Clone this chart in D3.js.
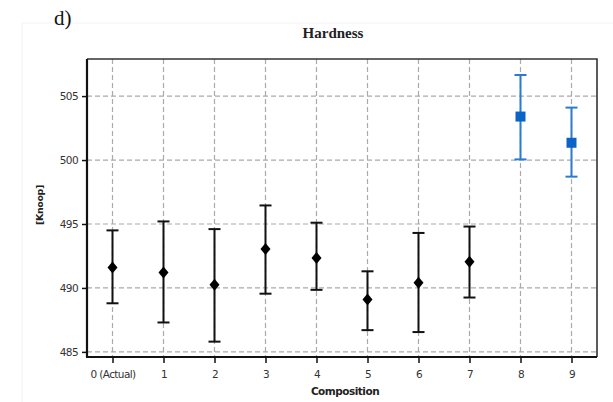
<!DOCTYPE html>
<html><head><meta charset="utf-8">
<script src="https://cdn.jsdelivr.net/npm/d3@7"></script>
<style>body{margin:0;background:#fff}</style>
</head><body>
<svg id="c" width="613" height="402"></svg>
<script>
const categories = ["0 (Actual)","1","2","3","4","5","6","7","8","9"];
const means = [491.6,491.2,490.25,493.05,492.35,489.1,490.4,492.05,503.4,501.35];
const upper = [494.5,495.2,494.6,496.45,495.1,491.3,494.3,494.8,506.65,504.1];
const lower = [488.8,487.3,485.8,489.55,489.85,486.7,486.55,489.25,500.05,498.7];
const groups = ["base","base","base","base","base","base","base","base","new","new"];
const yTicks = [485,490,495,500,505];

const svg = d3.select("#c");
const m = {l:87, r:597, t:59, b:357};
const x = d3.scalePoint().domain(categories).range([m.l, m.r]).padding(0.5);
const y = d3.scaleLinear().domain([484.6, 507.9]).range([m.b, m.t]);

// faint outer frame
svg.append("rect").attr("x",22).attr("y",23).attr("width",600).attr("height",390)
  .attr("fill","none").attr("stroke","#f3f3f3").attr("stroke-width",1);

// grid
svg.append("g").selectAll("line").data(yTicks).join("line")
  .attr("x1",m.l).attr("x2",m.r).attr("y1",d=>y(d)).attr("y2",d=>y(d))
  .attr("stroke","#aaaaaa").attr("stroke-width",1.2).attr("stroke-dasharray","5,3");
svg.append("g").selectAll("line").data(categories).join("line")
  .attr("x1",d=>x(d)).attr("x2",d=>x(d)).attr("y1",m.t).attr("y2",m.b)
  .attr("stroke","#aaaaaa").attr("stroke-width",1.2).attr("stroke-dasharray","5,3");

// frame top/right
svg.append("path").attr("d",`M${m.l},${m.t}H${m.r}V${m.b}`).attr("fill","none")
  .attr("stroke","#333").attr("stroke-width",1.6);

// axes
const fontFam = "'DejaVu Sans', Verdana, sans-serif";
const ax = svg.append("g").attr("transform",`translate(0,${m.b})`)
  .call(d3.axisBottom(x).tickSize(6).tickSizeOuter(0));
const ay = svg.append("g").attr("transform",`translate(${m.l},0)`)
  .call(d3.axisLeft(y).tickValues(yTicks).tickSize(5).tickSizeOuter(0));
[ax,ay].forEach(a=>{
  a.select(".domain").attr("stroke","#111").attr("stroke-width",2.2);
  a.selectAll(".tick line").attr("stroke","#111").attr("stroke-width",1.5);
  a.selectAll("text").attr("font-family",fontFam).attr("font-size",10.5)
    .attr("fill","#333").attr("letter-spacing","-0.6");
});
ax.selectAll("text").attr("dy","1.1em");
ay.selectAll("text").attr("dx","-1");
ax.select(".domain").attr("d",`M${m.l-1},0H${m.r}`);
ay.select(".domain").attr("d",`M0,${m.t}V${m.b}`);

const col = g => g==="new" ? "#2b7bd3" : "#111";
const mk = g => g==="new" ? "#0a64c8" : "#000";
const data = categories.map((c,i)=>({c, m:means[i], hi:upper[i], lo:lower[i], g:groups[i]}));
const eb = svg.append("g").selectAll("g").data(data).join("g");
eb.append("line").attr("x1",d=>x(d.c)).attr("x2",d=>x(d.c))
  .attr("y1",d=>y(d.hi)).attr("y2",d=>y(d.lo)).attr("stroke",d=>col(d.g)).attr("stroke-width",2);
eb.append("line").attr("x1",d=>x(d.c)-6).attr("x2",d=>x(d.c)+6)
  .attr("y1",d=>y(d.hi)).attr("y2",d=>y(d.hi)).attr("stroke",d=>col(d.g)).attr("stroke-width",2);
eb.append("line").attr("x1",d=>x(d.c)-6).attr("x2",d=>x(d.c)+6)
  .attr("y1",d=>y(d.lo)).attr("y2",d=>y(d.lo)).attr("stroke",d=>col(d.g)).attr("stroke-width",2);
eb.append("path")
  .attr("transform",d=>`translate(${x(d.c)},${y(d.m)})`)
  .attr("d",d=>d.g==="new" ? "M-5,-5H5V5H-5Z" : "M0,-6L5,0L0,6L-5,0Z")
  .attr("fill",d=>mk(d.g));

// titles
svg.append("text").attr("x",333).attr("y",38).attr("text-anchor","middle")
  .attr("font-family","'Liberation Serif', serif").attr("font-weight","bold").attr("font-size",15)
  .attr("fill","#222").text("Hardness");
svg.append("text").attr("x",54).attr("y",25)
  .attr("font-family","'Liberation Serif', serif").attr("font-size",21)
  .attr("fill","#111").text("d)");
svg.append("text").attr("x",345).attr("y",395).attr("text-anchor","middle")
  .attr("font-family",fontFam).attr("font-weight","bold").attr("font-size",10.5)
  .attr("letter-spacing","-0.5").attr("fill","#222").text("Composition");
svg.append("text").attr("transform","translate(43,205) rotate(-90)").attr("text-anchor","middle")
  .attr("font-family",fontFam).attr("font-weight","bold").attr("font-size",9.5)
  .attr("letter-spacing","-0.4").attr("fill","#222").text("[Knoop]");
</script>
</body></html>
